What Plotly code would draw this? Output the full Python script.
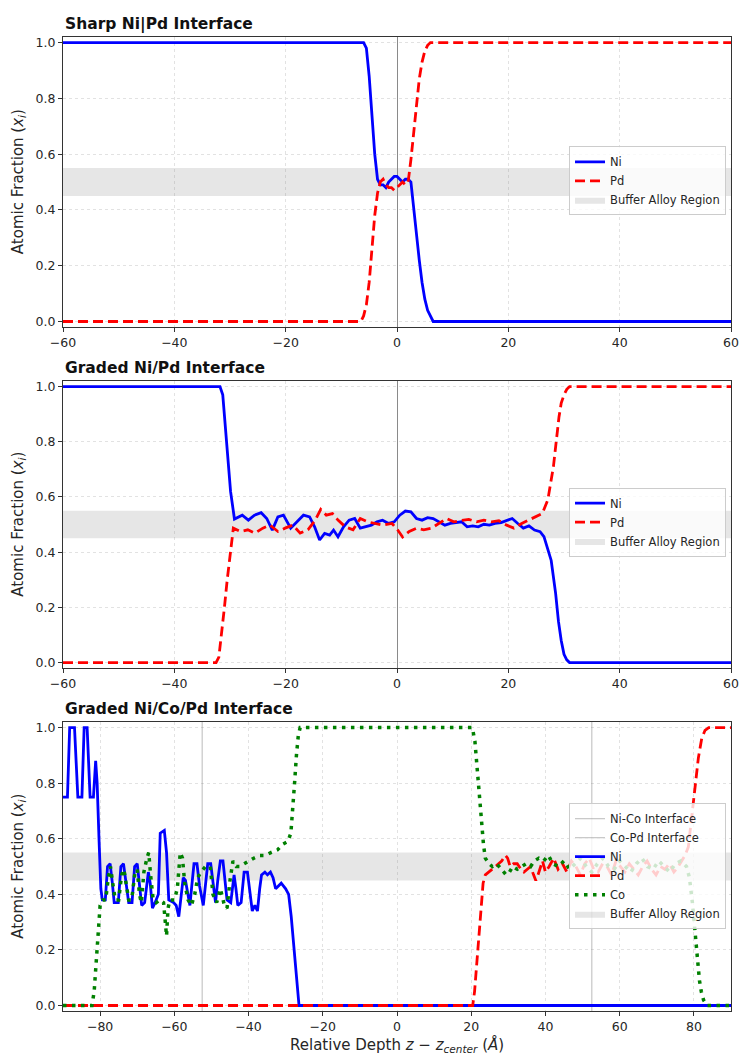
import plotly.graph_objects as go

# ---------------- data ----------------
X_RANGE_12 = [-60, 60]
X_RANGE_3 = [-90, 90]
Y_RANGE = [-0.02, 1.02]
BUFFER = [0.45, 0.55]
X_TICKS_12 = [-60, -40, -20, 0, 20, 40, 60]
X_TICKS_3 = [-80, -60, -40, -20, 0, 20, 40, 60, 80]
Y_TICKS = [0.0, 0.2, 0.4, 0.6, 0.8, 1.0]
INTERFACE_NAMES = ["Ni-Co Interface", "Co-Pd Interface"]
INTERFACE_POS = [-52.5, 52.5]
TITLES = ["Sharp Ni|Pd Interface", "Graded Ni/Pd Interface", "Graded Ni/Co/Pd Interface"]

# Panel 1: sharp Ni|Pd
ni1_x = [-60, -6, -5.5, -5, -4.5, -4, -3.5, -3, -2.5, -2, -1.5, -1, -0.5, 0, 0.5, 1, 1.5, 2, 2.5,
         3, 3.5, 4, 4.5, 5, 5.5, 6, 6.5, 60]
ni1_y = [1.0, 1.0, 0.98, 0.88, 0.74, 0.60, 0.51, 0.49, 0.49, 0.48, 0.50, 0.51, 0.52, 0.52, 0.51, 0.50, 0.51,
         0.51, 0.50, 0.40, 0.31, 0.22, 0.14, 0.08, 0.04, 0.02, 0.0, 0.0]
pd1_x = [-60, -6.5, -6, -5.5, -5, -4.5, -4, -3.5, -3, -2.5, -2, -1.5, -1, -0.5, 0, 0.5, 1, 1.5, 2, 2.5,
         3, 3.5, 4, 4.5, 5, 5.5, 6, 60]
pd1_y = [0.0, 0.0, 0.02, 0.06, 0.14, 0.26, 0.38, 0.46, 0.50, 0.51, 0.49, 0.48, 0.48, 0.47, 0.48, 0.49, 0.50,
         0.49, 0.50, 0.58, 0.68, 0.78, 0.87, 0.93, 0.97, 0.99, 1.0, 1.0]

# Panel 2: graded Ni/Pd
ni2_x = [-60, -31.8, -31.3, -30.6, -29.9, -29.2, -27.8, -26.7, -25.6, -24.4, -23.4, -22.4, -21.4, -20.4,
         -19.1, -17.7, -16.8, -15.7, -14.8, -13.9, -13.0, -12.1, -11.4, -10.6, -9.6, -8.6, -7.6, -6.6,
         -5.6, -4.6, -3.6, -2.6, -1.5, -0.5, 0.5, 1.5, 2.5, 3.5, 4.5, 5.5, 6.5, 7.5, 8.6, 9.6, 10.6, 11.6,
         12.6, 13.6, 14.6, 15.6, 16.6, 17.6, 18.7, 19.7, 20.7, 21.7, 22.7, 23.7, 24.7, 25.7, 26.4, 27.7,
         28.5, 29.0, 29.5, 30.0, 30.5, 31.0, 60]
ni2_y = [1.0, 1.0, 0.97, 0.80, 0.62, 0.52, 0.534, 0.516, 0.534, 0.543, 0.522, 0.48, 0.528, 0.534,
         0.487, 0.516, 0.534, 0.528, 0.492, 0.444, 0.468, 0.462, 0.48, 0.456, 0.492, 0.516, 0.522, 0.487,
         0.492, 0.498, 0.51, 0.516, 0.504, 0.51, 0.534, 0.549, 0.546, 0.522, 0.516, 0.525, 0.522, 0.51,
         0.498, 0.504, 0.507, 0.51, 0.492, 0.495, 0.492, 0.501, 0.498, 0.504, 0.507, 0.514, 0.522, 0.504,
         0.487, 0.495, 0.48, 0.474, 0.456, 0.37, 0.25, 0.15, 0.08, 0.03, 0.01, 0.0, 0.0]
pd2_x = [-60, -32.5, -32, -31.5, -31, -30.5, -30, -29.4, -28.1, -26.8, -25.5, -24.1, -22.8, -21.4, -20.1,
         -18.7, -17.4, -16.0, -14.7, -13.7, -12.7, -11.6, -10.6, -9.3, -7.9, -6.6, -5.3, -3.9, -2.6, -0.9,
         0.1, 1.0, 2.2, 3.5, 4.8, 6.2, 7.5, 8.9, 10.2, 11.6, 12.9, 14.3, 15.6, 17.0, 18.3, 19.7, 21.0,
         22.4, 23.7, 25.1, 26.1, 27.1, 28.1, 29.1, 29.5, 30.0, 30.5, 31.0, 60]
pd2_y = [0.0, 0.0, 0.02, 0.10, 0.20, 0.30, 0.38, 0.487, 0.475, 0.481, 0.469, 0.487, 0.498, 0.475, 0.487,
         0.498, 0.469, 0.481, 0.516, 0.555, 0.534, 0.54, 0.516, 0.492, 0.481, 0.522, 0.51, 0.504, 0.498,
         0.504, 0.481, 0.455, 0.475, 0.487, 0.481, 0.487, 0.504, 0.522, 0.51, 0.516, 0.519, 0.51, 0.516,
         0.51, 0.514, 0.498, 0.487, 0.504, 0.516, 0.528, 0.54, 0.59, 0.71, 0.89, 0.94, 0.97, 0.99, 1.0, 1.0]

# Panel 3: graded Ni/Co/Pd
ni3_x = [-90, -88.8, -88.2, -86.9, -86.0, -84.9, -84.3, -83.5, -82.7, -81.8, -81.2, -80.8, -80.3, -79.8,
         -79.4, -78.6, -78.0, -77.3, -76.7, -76.2, -75.1, -74.4, -73.7, -73.0, -72.3, -71.4, -70.7, -70.0,
         -69.4, -68.8, -68.0, -67.0, -66.5, -65.9, -65.2, -64.3, -63.8, -62.7, -62.1, -61.5, -60.2, -59.5,
         -58.8, -58.2, -57.6, -57.0, -56.4, -55.8, -55.3, -54.7, -53.9, -53.2, -52.2, -51.6, -51.0, -50.2,
         -49.5, -48.9, -48.3, -47.6, -46.9, -46.3, -45.8, -44.8, -43.9, -43.4, -42.9, -42.0, -41.2, -40.3,
         -39.6, -39.0, -38.3, -37.6, -37.0, -36.5, -35.6, -34.9, -34.1, -33.4, -32.7, -31.9, -31.2, -30.0,
         -29.2, -28.5, -27.9, -27.3, -26.7, -26.4, 90]
ni3_y = [0.75, 0.75, 1.0, 1.0, 0.75, 0.75, 1.0, 1.0, 0.75, 0.75, 0.88, 0.80, 0.60, 0.42,
         0.38, 0.38, 0.50, 0.51, 0.44, 0.37, 0.37, 0.50, 0.51, 0.44, 0.37, 0.37, 0.50, 0.51,
         0.44, 0.36, 0.37, 0.48, 0.44, 0.35, 0.37, 0.40, 0.62, 0.63, 0.55, 0.38, 0.37, 0.36,
         0.32, 0.40, 0.46, 0.45, 0.40, 0.36, 0.43, 0.51, 0.51, 0.43, 0.36, 0.45, 0.51, 0.51,
         0.43, 0.37, 0.45, 0.52, 0.52, 0.44, 0.38, 0.37, 0.47, 0.42, 0.36, 0.37, 0.48, 0.48,
         0.40, 0.34, 0.36, 0.34, 0.42, 0.47, 0.48, 0.47, 0.48, 0.46, 0.42, 0.43, 0.44, 0.42,
         0.40, 0.32, 0.22, 0.12, 0.04, 0.0, 0.0]
pd3_x = [-90, 20.4, 20.9, 21.5, 22.0, 22.6, 23.2, 23.8, 24.6, 25.6, 26.5, 27.4, 28.2, 29.2, 29.8, 30.5,
         31.4, 32.4, 33.4, 34.2, 35.0, 36.0, 36.8, 37.4, 38.0, 38.6, 39.2, 40.0, 41.0, 42.2, 43.4, 44.6,
         45.8, 47.0, 48.2, 49.4, 50.6, 51.8, 53.0, 54.2, 55.4, 56.6, 57.8, 59.0, 60.2, 61.4, 62.6, 63.8,
         65.0, 66.2, 67.4, 68.6, 69.8, 71.0, 72.2, 73.4, 74.6, 75.8, 76.8, 77.6, 78.5, 79.4, 80.3, 81.2,
         82.1, 83.0, 84.0, 90]
pd3_y = [0.0, 0.0, 0.05, 0.15, 0.25, 0.35, 0.44, 0.47, 0.48, 0.49, 0.50, 0.51, 0.52, 0.54, 0.53, 0.50,
         0.51, 0.51, 0.49, 0.48, 0.49, 0.50, 0.47, 0.45, 0.47, 0.50, 0.52, 0.48, 0.50, 0.53, 0.49, 0.51,
         0.48, 0.52, 0.50, 0.47, 0.51, 0.53, 0.49, 0.48, 0.51, 0.50, 0.47, 0.52, 0.50, 0.48, 0.51, 0.49,
         0.47, 0.50, 0.52, 0.49, 0.47, 0.50, 0.49, 0.51, 0.48, 0.50, 0.52, 0.54, 0.57, 0.67, 0.79, 0.89,
         0.96, 0.99, 1.0, 1.0]
co3_x = [-90, -82.2, -81.6, -81.0, -80.5, -80.0, -79.3, -78.5, -77.8, -77.2, -76.6, -75.9, -75.0, -74.2,
         -73.6, -73.0, -72.3, -71.5, -70.6, -70.0, -69.4, -68.9, -68.2, -67.4, -66.9, -66.4, -65.7, -64.9,
         -63.9, -62.9, -62.4, -62.1, -61.7, -61.2, -60.0, -59.2, -58.4, -57.8, -57.2, -56.3, -55.4, -54.5,
         -53.7, -52.8, -51.6, -50.3, -49.6, -48.6, -47.6, -46.5, -45.8, -45.0, -44.2, -43.3, -42.4, -41.2,
         -40.0, -38.6, -37.0, -35.5, -34.0, -32.2, -30.8, -29.4, -28.6, -28.1, -27.6, -27.1, -26.6, -26.1,
         20.3, 21.0, 21.7, 22.3, 22.8, 23.3, 23.8, 24.8, 25.7, 26.7, 27.5, 28.6, 29.4, 30.3, 31.2, 32.4,
         33.6, 34.8, 36.0, 37.0, 38.2, 39.5, 40.8, 42.0, 43.5, 45.0, 46.5, 48.0, 49.5, 51.0, 52.5, 54.0,
         55.5, 57.0, 58.5, 60.0, 61.5, 63.0, 64.5, 66.0, 67.5, 69.0, 70.5, 72.0, 73.5, 75.0, 76.5, 78.0,
         78.8, 79.6, 80.2, 80.7, 81.1, 81.5, 82.0, 82.6, 83.6, 90]
co3_y = [0.0, 0.0, 0.05, 0.18, 0.30, 0.36, 0.38, 0.38, 0.46, 0.50, 0.44, 0.38, 0.38, 0.47,
         0.49, 0.44, 0.38, 0.38, 0.48, 0.49, 0.40, 0.37, 0.48, 0.53, 0.55, 0.47, 0.38, 0.37,
         0.38, 0.37, 0.30, 0.25, 0.35, 0.38, 0.38, 0.42, 0.55, 0.53, 0.44, 0.38, 0.36, 0.40,
         0.46, 0.48, 0.50, 0.50, 0.40, 0.37, 0.42, 0.36, 0.35, 0.45, 0.52, 0.50, 0.50, 0.51,
         0.52, 0.53, 0.54, 0.54, 0.55, 0.56, 0.58, 0.59, 0.62, 0.70, 0.80, 0.90, 0.97, 1.0,
         1.0, 0.95, 0.84, 0.72, 0.64, 0.58, 0.53, 0.51, 0.50, 0.51, 0.50, 0.48, 0.47, 0.48, 0.50, 0.49,
         0.50, 0.51, 0.50, 0.52, 0.53, 0.52, 0.54, 0.51, 0.50, 0.52, 0.49, 0.51, 0.53, 0.50, 0.48, 0.51,
         0.53, 0.50, 0.49, 0.52, 0.50, 0.48, 0.51, 0.53, 0.50, 0.49, 0.52, 0.50, 0.48, 0.51, 0.52, 0.50,
         0.46, 0.37, 0.28, 0.21, 0.15, 0.09, 0.05, 0.02, 0.0, 0.0]

# ---------------- styling ----------------
FONT = "DejaVu Sans"
TXT = "#262626"
NI_C, PD_C, CO_C = "#0000ff", "#ff0000", "#008000"
BAND_C = "rgba(128,128,128,0.2)"
W, H = 739, 1059
ML, MR = 63, 6
PW = W - ML - MR
# plot-area pixel extents (top, bottom)
PANELS_PX = [(35.1, 326.3), (380.5, 668.6), (722.7, 1012.9)]
LEGEND_CY = [179.5, 522.0, 867.5]


def py(px):
    return 1 - px / H


def px_x(px):
    return (px - ML) / PW


fig = go.Figure()

panel_data = [
    dict(xr=X_RANGE_12, ticks=X_TICKS_12,
         series=[("Ni", ni1_x, ni1_y, NI_C, "solid", 2.8), ("Pd", pd1_x, pd1_y, PD_C, "10px,5px", 2.8)]),
    dict(xr=X_RANGE_12, ticks=X_TICKS_12,
         series=[("Ni", ni2_x, ni2_y, NI_C, "solid", 2.8), ("Pd", pd2_x, pd2_y, PD_C, "10px,5px", 2.8)]),
    dict(xr=X_RANGE_3, ticks=X_TICKS_3,
         series=[("Ni", ni3_x, ni3_y, NI_C, "solid", 2.8), ("Pd", pd3_x, pd3_y, PD_C, "10px,5px", 2.8),
                 ("Co", co3_x, co3_y, CO_C, "3.5px,5.5px", 3.5)]),
]

for i, pdat in enumerate(panel_data):
    n = i + 1
    xa = "x" if n == 1 else f"x{n}"
    ya = "y" if n == 1 else f"y{n}"
    lg = "legend" if n == 1 else f"legend{n}"
    # buffer band
    fig.add_trace(go.Scatter(
        x=[pdat["xr"][0], pdat["xr"][1], pdat["xr"][1], pdat["xr"][0], pdat["xr"][0]],
        y=[BUFFER[0], BUFFER[0], BUFFER[1], BUFFER[1], BUFFER[0]],
        fill="toself", fillcolor=BAND_C, mode="lines", line=dict(width=0, color=BAND_C),
        name="Buffer Alloy Region", legend=lg, legendrank=10, xaxis=xa, yaxis=ya, hoverinfo="skip"))
    if n == 3:
        for k, (nm, pos) in enumerate(zip(INTERFACE_NAMES, INTERFACE_POS)):
            fig.add_trace(go.Scatter(
                x=[pos, pos], y=Y_RANGE, mode="lines",
                line=dict(color="rgba(120,120,120,0.5)", width=1),
                name=nm, legend=lg, legendrank=1 + k, xaxis=xa, yaxis=ya))
    for k, (nm, xs, ys, col, dash, wid) in enumerate(pdat["series"]):
        fig.add_trace(go.Scatter(
            x=xs, y=ys, mode="lines", name=nm,
            line=dict(color=col, dash=dash, width=wid),
            legend=lg, legendrank=5 + k, xaxis=xa, yaxis=ya))

axis_common = dict(showline=True, mirror=True, linecolor="#333333", linewidth=1,
                   ticks="outside", ticklen=4, tickcolor="#333333", tickwidth=1,
                   showgrid=True, gridcolor="#e2e2e2", griddash="dot", gridwidth=1,
                   ticklabeloverflow="allow",
                   tickfont=dict(family=FONT, size=12.5, color=TXT))

layout_axes = {}
annotations = []
for i, pdat in enumerate(panel_data):
    n = i + 1
    top, bot = PANELS_PX[i]
    xk = "xaxis" if n == 1 else f"xaxis{n}"
    yk = "yaxis" if n == 1 else f"yaxis{n}"
    ya = "y" if n == 1 else f"y{n}"
    xa = "x" if n == 1 else f"x{n}"
    layout_axes[xk] = dict(axis_common, domain=[0, 1], anchor=ya, range=pdat["xr"],
                           tickvals=pdat["ticks"], zeroline=(n != 3),
                           zerolinecolor="#8a8a8a", zerolinewidth=1)
    layout_axes[yk] = dict(axis_common, domain=[py(bot), py(top)], anchor=xa, range=Y_RANGE,
                           tickvals=Y_TICKS, tickformat=".1f", zeroline=False)
    annotations.append(dict(text=f"<b>{TITLES[i]}</b>", xref="paper", yref="paper",
                            x=0, y=py(top - 13), xanchor="left", yanchor="middle", showarrow=False,
                            font=dict(family=FONT, size=15.5, color="#111111")))
    annotations.append(dict(text="Atomic Fraction (<i>x<sub>i</sub></i>)", xref="paper", yref="paper",
                            x=px_x(18), y=py((top + bot) / 2), xanchor="center", yanchor="middle",
                            textangle=-90, showarrow=False,
                            font=dict(family=FONT, size=15, color=TXT)))

annotations.append(dict(text="Relative Depth <i>z</i> − <i>z<sub>center</sub></i> (<i>Å</i>)",
                        xref="paper", yref="paper", x=px_x(398), y=py(1047),
                        xanchor="center", yanchor="middle", showarrow=False,
                        font=dict(family=FONT, size=15, color=TXT)))

legend_common = dict(xanchor="right", yanchor="middle", x=px_x(728),
                     bgcolor="rgba(255,255,255,0.8)", bordercolor="#cccccc", borderwidth=1,
                     font=dict(family=FONT, size=11.5, color=TXT), tracegroupgap=0)
legends = {}
for i in range(3):
    key = "legend" if i == 0 else f"legend{i + 1}"
    legends[key] = dict(legend_common, y=py(LEGEND_CY[i]))

fig.update_layout(
    width=W, height=H, margin=dict(l=ML, r=MR, t=0, b=0),
    paper_bgcolor="white", plot_bgcolor="white",
    font=dict(family=FONT, color=TXT),
    showlegend=True, annotations=annotations, **layout_axes, **legends)

fig.write_html("out.html")
